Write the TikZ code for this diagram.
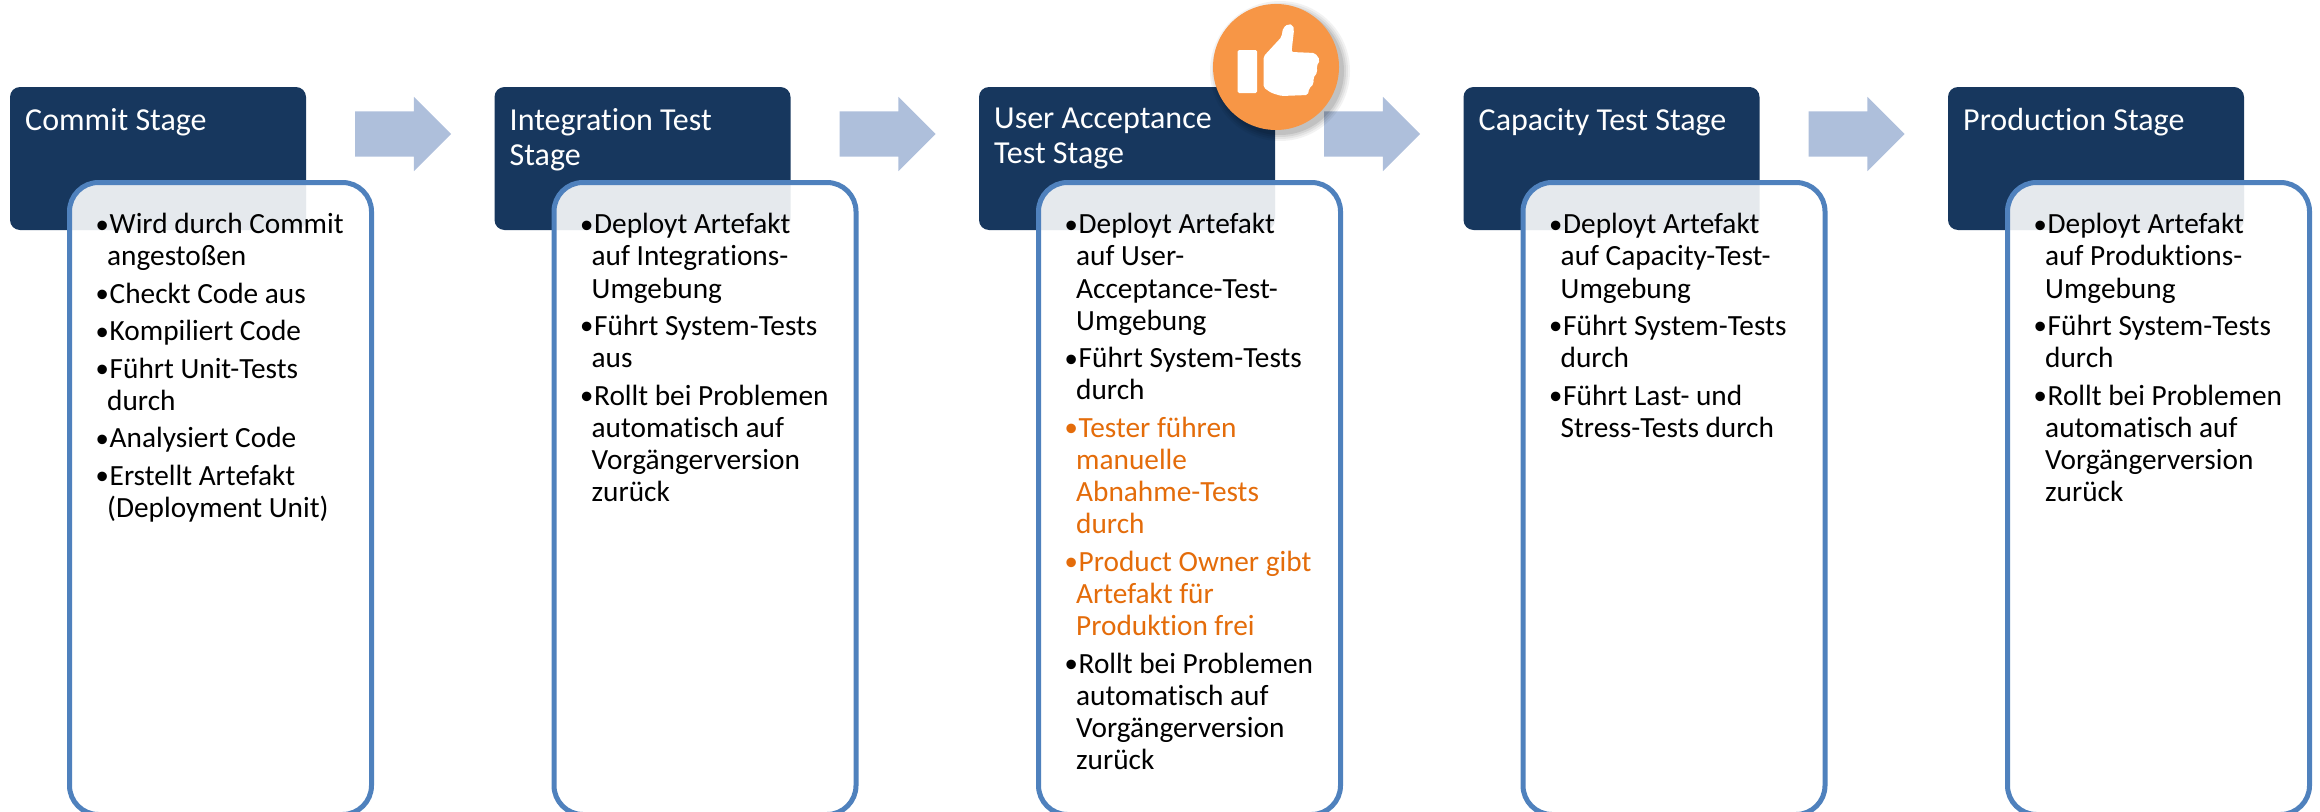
\documentclass[tikz,border=0pt]{standalone}
\usepackage{fontspec}
\setmainfont[Ligatures=NoCommon]{Carlito}
\newfontfamily\bulfont{Liberation Sans}
\usetikzlibrary{shapes.arrows}
\definecolor{stagedark}{HTML}{17375E}
\definecolor{bodyline}{HTML}{4F81BD}
\definecolor{flowarrow}{HTML}{AEBFDB}
\definecolor{thumbcirc}{HTML}{F79646}
\definecolor{manual}{HTML}{E46C0A}
\newcommand{\itm}[1]{\par\hangindent=11pt\hangafter=1\spaceskip=0pt\xspaceskip=0pt\noindent\hbox to 13.5pt{\raisebox{-3.5pt}{\bulfont\fontsize{35}{30}\selectfont •}\hss}\begingroup\def\\{\hfil\break}#1\endgroup\par}
\tikzset{
  x=1pt,y=-1pt,
  stagebox/.style={fill=stagedark,rounded corners=10pt,minimum width=296pt,minimum height=143pt,inner sep=0pt,outer sep=0pt,anchor=north west},
  bodybox/.style={draw=bodyline,line width=5pt,fill=white,fill opacity=.89,draw opacity=1,rounded corners=29pt,minimum width=302pt,minimum height=632pt,inner sep=0pt,outer sep=0pt,anchor=north west},
  stagetitle/.style={text=white,font=\fontsize{32}{35.2}\selectfont,align=flush left,anchor=north west,inner sep=0pt},
  bodytext/.style={text=black,font=\fontsize{29.3}{32.2}\selectfont,text width=290pt,align=flush left,anchor=north west,inner sep=0pt,execute at begin node={\setlength{\parskip}{5.2pt}\setlength{\parindent}{0pt}}},
  flow/.style={single arrow,fill=flowarrow,minimum height=96pt,minimum width=74pt,single arrow head extend=14.5pt,inner xsep=0pt,inner ysep=22.5pt,outer sep=0pt,anchor=west},
}
\begin{document}
\begin{tikzpicture}
\useasboundingbox (0,0) rectangle (2320,811);
% Stage boxes
\node[stagebox] (s1) at (10,87) {};
\node[stagebox] (s2) at (494.5,87) {};
\node[stagebox] (s3) at (979,87) {};
\node[stagebox] (s4) at (1463.5,87) {};
\node[stagebox] (s5) at (1948,87) {};
\node[stagetitle] (t1) at (25,108) {Commit Stage};
\node[stagetitle] (t2) at (509.5,108) {Integration Test\\Stage};
\node[stagetitle] (t3) at (994,108) {User Acceptance\\Test Stage};
\node[stagetitle] (t4) at (1478.5,108) {Capacity Test Stage};
\node[stagetitle] (t5) at (1963,108) {Production Stage};
% Bodies
\node[bodybox] (b1) at (69.5,182.5) {};
\node[bodybox] (b2) at (554,182.5) {};
\node[bodybox] (b3) at (1038.5,182.5) {};
\node[bodybox] (b4) at (1523,182.5) {};
\node[bodybox] (b5) at (2007.5,182.5) {};
\node[bodytext] (x1) at (96,196) {%
\itm{Wird durch Commit\\angestoßen}
\itm{Checkt Code aus}
\itm{Kompiliert Code}
\itm{Führt Unit-Tests\\durch}
\itm{Analysiert Code}
\itm{Erstellt Artefakt\\(Deployment Unit)}};
\node[bodytext] (x2) at (580.5,196) {%
\itm{Deployt Artefakt\\auf Integrations-\\Umgebung}
\itm{Führt System-Tests\\aus}
\itm{Rollt bei Problemen\\automatisch auf\\Vorgängerversion\\zurück}};
\node[bodytext] (x3) at (1065,196) {%
\itm{Deployt Artefakt\\auf User-\\Acceptance-Test-\\Umgebung}
\itm{Führt System-Tests\\durch}
{\color{manual}\itm{Tester führen\\manuelle\\Abnahme-Tests\\durch}
\itm{Product Owner gibt\\Artefakt für\\Produktion frei}}
\itm{Rollt bei Problemen\\automatisch auf\\Vorgängerversion\\zurück}};
\node[bodytext] (x4) at (1549.5,196) {%
\itm{Deployt Artefakt\\auf Capacity-Test-\\Umgebung}
\itm{Führt System-Tests\\durch}
\itm{Führt Last- und\\Stress-Tests durch}};
\node[bodytext] (x5) at (2034,196) {%
\itm{Deployt Artefakt\\auf Produktions-\\Umgebung}
\itm{Führt System-Tests\\durch}
\itm{Rollt bei Problemen\\automatisch auf\\Vorgängerversion\\zurück}};
% Flow arrows
\node[flow] (a1) at (355,134) {};
\node[flow] (a2) at (839.5,134) {};
\node[flow] (a3) at (1324,134) {};
\node[flow] (a4) at (1808.5,134) {};
% Thumb badge
\foreach \o/\r in {.05/70,.06/68,.07/66,.09/64}
  \fill[black,opacity=\o] (1280,71) circle[radius=\r];
\node[circle,fill=thumbcirc,minimum size=126pt,inner sep=0pt,outer sep=0pt] (badge) at (1276,67) {};
\fill[white,rounded corners=1.5pt] (1237.5,50) rectangle (1257,93);
\fill[white,rounded corners=2pt] (1263.5,56.5) -- (1281.5,37) -- (1283,28) -- (1288,24) -- (1293,25) -- (1294,30) -- (1291.5,52) -- (1315,53) -- (1320,60) -- (1316.5,66.5) -- (1317.5,72) -- (1313,78.5) -- (1314,83.5) -- (1309,88.5) -- (1308,95) -- (1281.5,96) -- (1271.5,93) -- (1263.5,87.5) -- cycle;
\end{tikzpicture}
\end{document}
